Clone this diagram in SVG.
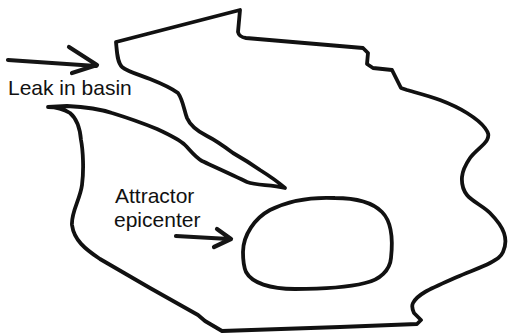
<svg xmlns="http://www.w3.org/2000/svg" width="508" height="334" viewBox="0 0 508 334">
  <style>
    .ink { fill: none; stroke: #111; stroke-width: 3.8; stroke-linecap: round; stroke-linejoin: round; }
    .arrow { fill: none; stroke: #151515; stroke-width: 4.2; stroke-linecap: round; stroke-linejoin: round; }
    .lbl { font-family: "Liberation Sans", Arial, sans-serif; font-size: 21px; fill: #111; }
  </style>
  <rect width="508" height="334" fill="#ffffff"/>
  <g id="basin">
    <path class="ink" d="M116,42 L240,10 L238,32 Q239,37 246,38 L363,48 L368,53 L367,64 L373,68 L392,70 L397,80 L401,88 L407,90
      C413.7,92 430,96.2 440,100
      C450,103.8 459.5,108.3 467,113
      C474.5,117.7 481.7,123.5 485,128
      C488.3,132.5 489.5,135 487,140
      C484.5,145 474.2,151.8 470,158
      C465.8,164.2 462.5,170.8 462,177
      C461.5,183.2 462.3,189 467,195
      C471.7,201 483.8,206.7 490,213
      C496.2,219.3 501.8,226.5 504,233
      C506.2,239.5 505.3,247 503,252
      C500.7,257 497.7,258.8 490,263
      C482.3,267.2 467.8,272.2 457,277
      C446.2,281.8 432.3,287.7 425,292
      C417.7,296.3 414.8,299.5 413,303
      C411.2,306.5 412.7,310.2 414,313
      L421,320 L417,324 L340,327 L222,331
      L205,321 L198,315 L150,288 L100,259
      C85,249 74,240 72,225 C71,212 80,200 82,185 C84,170 83,150 81,140 C80,128 76,118 70,113 C62,108 55,107 48,107
      L67,106 C85,107 100,109 112,113 C125,117 140,122 157,129 C170,135 180,140 185,145 C190,150 195,157 202,161 C215,167 235,176 247,182 C258,186 270,184 285,188
      C277,181 268,175 260,170 C250,163 240,157 233,153 C225,147 215,140 207,136 C197,131 190,125 187,118 C184,110 183,100 178,93 C170,87 160,83 150,79 C140,75 128,72 122,67 C117,62 117,52 116,42 Z"/>
  </g>
  <g id="attractor">
    <path class="ink" d="M243,252 C243,235 255,218 270,210 C290,200 315,197 335,198 C355,198 372,202 382,212 C392,222 393,240 391,258 C390,270 380,280 365,283 C345,288 320,289 295,289 C270,289 252,283 246,272 C243,265 243,258 243,252 Z"/>
  </g>
  <g id="label-leak">
    <text class="lbl" x="8" y="95">Leak in basin</text>
  </g>
  <g id="label-attractor">
    <text class="lbl" x="115" y="203">Attractor</text>
    <text class="lbl" x="114" y="227">epicenter</text>
  </g>
  <g id="connectors">
    <path class="arrow" d="M8,60 L96,66 M69,47 L97,65 L72,73"/>
    <path class="arrow" d="M176,236 L229,239 M217,229 L231,239 L214,247"/>
  </g>
</svg>
